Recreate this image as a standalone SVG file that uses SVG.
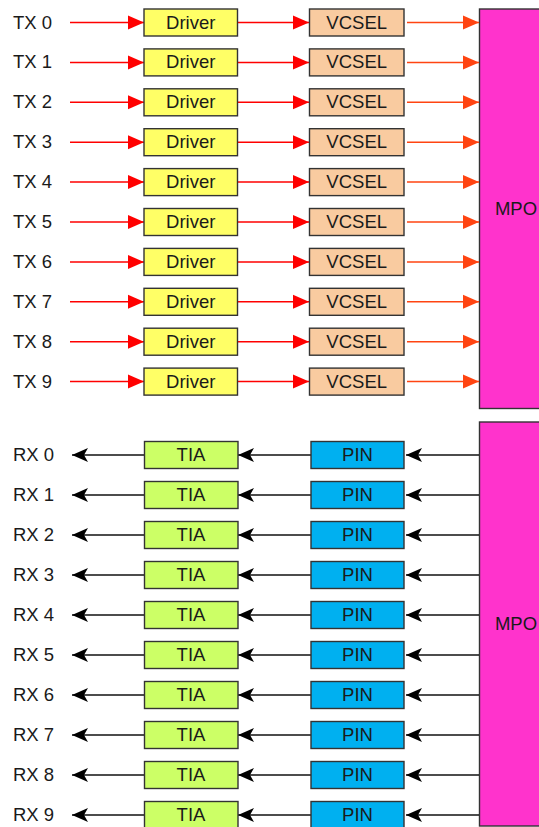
<svg xmlns="http://www.w3.org/2000/svg" width="539" height="827" viewBox="0 0 539 827">
<defs>
<style>
text{font-family:"Liberation Sans",Arial,sans-serif;font-size:18.5px;fill:#1a1a1a}
.c{text-anchor:middle}
.box{stroke:#333;stroke-width:1.4}
.drv{fill:#FFFF66}
.vcs{fill:#F9CBA0}
.tia{fill:#CCFF66}
.pin{fill:#00B0F0}
.mpo{fill:#FF33CC;stroke:#333;stroke-width:1.4}
.red{stroke:#FF0000;stroke-width:1.5;fill:none;marker-end:url(#ar)}
.org{stroke:#FF4411;stroke-width:1.5;fill:none;marker-end:url(#ao)}
.blk{stroke:#111;stroke-width:1.6;fill:none;marker-end:url(#ab)}
</style>
<marker id="ar" markerUnits="userSpaceOnUse" markerWidth="20" markerHeight="18" refX="17" refY="9" orient="auto"><path d="M1,2 L17,9 L1,16 z" fill="#FF0000"/></marker>
<marker id="ao" markerUnits="userSpaceOnUse" markerWidth="20" markerHeight="18" refX="17" refY="9" orient="auto"><path d="M1,2 L17,9 L1,16 z" fill="#FF4411"/></marker>
<marker id="ab" markerUnits="userSpaceOnUse" markerWidth="20" markerHeight="18" refX="17" refY="9" orient="auto"><path d="M1,2 L17,9 L1,16 L5,9 z" fill="#000"/></marker>
</defs>

<g id="mpo-tx"><rect class="mpo" x="479.5" y="9" width="70" height="399.5"/><text x="516" y="215" class="c">MPO</text></g>
<g id="mpo-rx"><rect class="mpo" x="479.5" y="422" width="70" height="404"/><text x="516" y="630" class="c">MPO</text></g>

<g id="connectors">
<path class="red" d="M70,22.5H144"/><path class="red" d="M237.5,22.5H309"/><path class="org" d="M407,22.5H479"/>
<path class="red" d="M70,62.4H144"/><path class="red" d="M237.5,62.4H309"/><path class="org" d="M407,62.4H479"/>
<path class="red" d="M70,102.3H144"/><path class="red" d="M237.5,102.3H309"/><path class="org" d="M407,102.3H479"/>
<path class="red" d="M70,142.2H144"/><path class="red" d="M237.5,142.2H309"/><path class="org" d="M407,142.2H479"/>
<path class="red" d="M70,182.1H144"/><path class="red" d="M237.5,182.1H309"/><path class="org" d="M407,182.1H479"/>
<path class="red" d="M70,222H144"/><path class="red" d="M237.5,222H309"/><path class="org" d="M407,222H479"/>
<path class="red" d="M70,261.9H144"/><path class="red" d="M237.5,261.9H309"/><path class="org" d="M407,261.9H479"/>
<path class="red" d="M70,301.8H144"/><path class="red" d="M237.5,301.8H309"/><path class="org" d="M407,301.8H479"/>
<path class="red" d="M70,341.7H144"/><path class="red" d="M237.5,341.7H309"/><path class="org" d="M407,341.7H479"/>
<path class="red" d="M70,381.6H144"/><path class="red" d="M237.5,381.6H309"/><path class="org" d="M407,381.6H479"/>

<path class="blk" d="M479,455H406"/><path class="blk" d="M311,455H238"/><path class="blk" d="M144,455H72"/>
<path class="blk" d="M479,495H406"/><path class="blk" d="M311,495H238"/><path class="blk" d="M144,495H72"/>
<path class="blk" d="M479,535H406"/><path class="blk" d="M311,535H238"/><path class="blk" d="M144,535H72"/>
<path class="blk" d="M479,575H406"/><path class="blk" d="M311,575H238"/><path class="blk" d="M144,575H72"/>
<path class="blk" d="M479,615H406"/><path class="blk" d="M311,615H238"/><path class="blk" d="M144,615H72"/>
<path class="blk" d="M479,655H406"/><path class="blk" d="M311,655H238"/><path class="blk" d="M144,655H72"/>
<path class="blk" d="M479,695H406"/><path class="blk" d="M311,695H238"/><path class="blk" d="M144,695H72"/>
<path class="blk" d="M479,735H406"/><path class="blk" d="M311,735H238"/><path class="blk" d="M144,735H72"/>
<path class="blk" d="M479,775H406"/><path class="blk" d="M311,775H238"/><path class="blk" d="M144,775H72"/>
<path class="blk" d="M479,815H406"/><path class="blk" d="M311,815H238"/><path class="blk" d="M144,815H72"/>
</g>

<g id="tx0"><text x="13" y="28.5">TX 0</text><rect class="box drv" x="144" y="9" width="93.5" height="27"/><text x="190.7" y="28.5" class="c">Driver</text><rect class="box vcs" x="309.5" y="9" width="94.5" height="27"/><text x="356.7" y="28.5" class="c">VCSEL</text></g>
<g id="tx1"><text x="13" y="68.4">TX 1</text><rect class="box drv" x="144" y="48.9" width="93.5" height="27"/><text x="190.7" y="68.4" class="c">Driver</text><rect class="box vcs" x="309.5" y="48.9" width="94.5" height="27"/><text x="356.7" y="68.4" class="c">VCSEL</text></g>
<g id="tx2"><text x="13" y="108.3">TX 2</text><rect class="box drv" x="144" y="88.8" width="93.5" height="27"/><text x="190.7" y="108.3" class="c">Driver</text><rect class="box vcs" x="309.5" y="88.8" width="94.5" height="27"/><text x="356.7" y="108.3" class="c">VCSEL</text></g>
<g id="tx3"><text x="13" y="148.2">TX 3</text><rect class="box drv" x="144" y="128.7" width="93.5" height="27"/><text x="190.7" y="148.2" class="c">Driver</text><rect class="box vcs" x="309.5" y="128.7" width="94.5" height="27"/><text x="356.7" y="148.2" class="c">VCSEL</text></g>
<g id="tx4"><text x="13" y="188.1">TX 4</text><rect class="box drv" x="144" y="168.6" width="93.5" height="27"/><text x="190.7" y="188.1" class="c">Driver</text><rect class="box vcs" x="309.5" y="168.6" width="94.5" height="27"/><text x="356.7" y="188.1" class="c">VCSEL</text></g>
<g id="tx5"><text x="13" y="228">TX 5</text><rect class="box drv" x="144" y="208.5" width="93.5" height="27"/><text x="190.7" y="228" class="c">Driver</text><rect class="box vcs" x="309.5" y="208.5" width="94.5" height="27"/><text x="356.7" y="228" class="c">VCSEL</text></g>
<g id="tx6"><text x="13" y="267.9">TX 6</text><rect class="box drv" x="144" y="248.4" width="93.5" height="27"/><text x="190.7" y="267.9" class="c">Driver</text><rect class="box vcs" x="309.5" y="248.4" width="94.5" height="27"/><text x="356.7" y="267.9" class="c">VCSEL</text></g>
<g id="tx7"><text x="13" y="307.8">TX 7</text><rect class="box drv" x="144" y="288.3" width="93.5" height="27"/><text x="190.7" y="307.8" class="c">Driver</text><rect class="box vcs" x="309.5" y="288.3" width="94.5" height="27"/><text x="356.7" y="307.8" class="c">VCSEL</text></g>
<g id="tx8"><text x="13" y="347.7">TX 8</text><rect class="box drv" x="144" y="328.2" width="93.5" height="27"/><text x="190.7" y="347.7" class="c">Driver</text><rect class="box vcs" x="309.5" y="328.2" width="94.5" height="27"/><text x="356.7" y="347.7" class="c">VCSEL</text></g>
<g id="tx9"><text x="13" y="387.6">TX 9</text><rect class="box drv" x="144" y="368.1" width="93.5" height="27"/><text x="190.7" y="387.6" class="c">Driver</text><rect class="box vcs" x="309.5" y="368.1" width="94.5" height="27"/><text x="356.7" y="387.6" class="c">VCSEL</text></g>

<g id="rx0"><text x="13" y="461">RX 0</text><rect class="box tia" x="144.5" y="441.5" width="93.5" height="27"/><text x="191" y="461" class="c">TIA</text><rect class="box pin" x="311" y="441.5" width="93" height="27"/><text x="357.5" y="461" class="c">PIN</text></g>
<g id="rx1"><text x="13" y="501">RX 1</text><rect class="box tia" x="144.5" y="481.5" width="93.5" height="27"/><text x="191" y="501" class="c">TIA</text><rect class="box pin" x="311" y="481.5" width="93" height="27"/><text x="357.5" y="501" class="c">PIN</text></g>
<g id="rx2"><text x="13" y="541">RX 2</text><rect class="box tia" x="144.5" y="521.5" width="93.5" height="27"/><text x="191" y="541" class="c">TIA</text><rect class="box pin" x="311" y="521.5" width="93" height="27"/><text x="357.5" y="541" class="c">PIN</text></g>
<g id="rx3"><text x="13" y="581">RX 3</text><rect class="box tia" x="144.5" y="561.5" width="93.5" height="27"/><text x="191" y="581" class="c">TIA</text><rect class="box pin" x="311" y="561.5" width="93" height="27"/><text x="357.5" y="581" class="c">PIN</text></g>
<g id="rx4"><text x="13" y="621">RX 4</text><rect class="box tia" x="144.5" y="601.5" width="93.5" height="27"/><text x="191" y="621" class="c">TIA</text><rect class="box pin" x="311" y="601.5" width="93" height="27"/><text x="357.5" y="621" class="c">PIN</text></g>
<g id="rx5"><text x="13" y="661">RX 5</text><rect class="box tia" x="144.5" y="641.5" width="93.5" height="27"/><text x="191" y="661" class="c">TIA</text><rect class="box pin" x="311" y="641.5" width="93" height="27"/><text x="357.5" y="661" class="c">PIN</text></g>
<g id="rx6"><text x="13" y="701">RX 6</text><rect class="box tia" x="144.5" y="681.5" width="93.5" height="27"/><text x="191" y="701" class="c">TIA</text><rect class="box pin" x="311" y="681.5" width="93" height="27"/><text x="357.5" y="701" class="c">PIN</text></g>
<g id="rx7"><text x="13" y="741">RX 7</text><rect class="box tia" x="144.5" y="721.5" width="93.5" height="27"/><text x="191" y="741" class="c">TIA</text><rect class="box pin" x="311" y="721.5" width="93" height="27"/><text x="357.5" y="741" class="c">PIN</text></g>
<g id="rx8"><text x="13" y="781">RX 8</text><rect class="box tia" x="144.5" y="761.5" width="93.5" height="27"/><text x="191" y="781" class="c">TIA</text><rect class="box pin" x="311" y="761.5" width="93" height="27"/><text x="357.5" y="781" class="c">PIN</text></g>
<g id="rx9"><text x="13" y="821">RX 9</text><rect class="box tia" x="144.5" y="801.5" width="93.5" height="27"/><text x="191" y="821" class="c">TIA</text><rect class="box pin" x="311" y="801.5" width="93" height="27"/><text x="357.5" y="821" class="c">PIN</text></g>
</svg>
